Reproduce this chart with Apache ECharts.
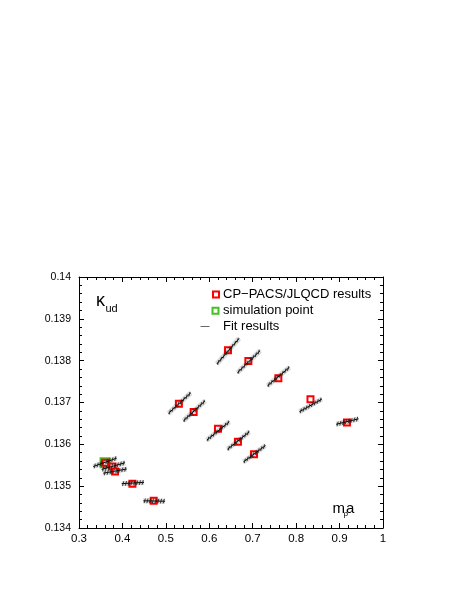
<!DOCTYPE html>
<html>
<head>
<meta charset="utf-8">
<script src="https://cdn.jsdelivr.net/npm/echarts@6/dist/echarts.min.js"></script>
<style>
html,body{margin:0;padding:0;background:#fff;}
#chart{width:463px;height:599px;}
</style>
</head>
<body>
<div id="chart"></div>
<script>
// CP-PACS/JLQCD results (m_rho a, kappa_ud)
const ptX = [0.360, 0.377, 0.383, 0.423, 0.472, 0.530, 0.564, 0.620, 0.666, 0.703, 0.643, 0.690, 0.759, 0.833, 0.917];
const ptY = [0.13556, 0.13547, 0.13535, 0.13506, 0.13465, 0.13697, 0.13677, 0.13637, 0.13606, 0.13576, 0.13825, 0.13799, 0.13758, 0.13708, 0.13652];
// simulation point
const simX = [0.360];
const simY = [0.13556];
// fit result segments (start / end)
const fitX1 = [0.3329, 0.3523, 0.3560, 0.3984, 0.4482, 0.5058, 0.5403, 0.5942, 0.6417, 0.6786, 0.6173, 0.6647, 0.7339, 0.8076, 0.8922];
const fitY1 = [0.13547, 0.13540, 0.13531, 0.13506, 0.13465, 0.13674, 0.13656, 0.13610, 0.13588, 0.13558, 0.13792, 0.13771, 0.13740, 0.13678, 0.13648];
const fitX2 = [0.3869, 0.4060, 0.4099, 0.4498, 0.4982, 0.5574, 0.5903, 0.6463, 0.6924, 0.7293, 0.6687, 0.7171, 0.7846, 0.8592, 0.9435];
const fitY2 = [0.13567, 0.13556, 0.13541, 0.13509, 0.13464, 0.13723, 0.13704, 0.13654, 0.13630, 0.13597, 0.13853, 0.13824, 0.13784, 0.13708, 0.13661];
// axes
const xMin = 0.3, xMax = 1.0, xStep = 0.1;
const yMin = 0.134, yMax = 0.140, yStep = 0.001;
const legendNames = ['CP\u2212PACS/JLQCD results', 'simulation point', 'Fit results'];

const FONT = '"Liberation Sans", Arial, Helvetica, sans-serif';
const chart = echarts.init(document.getElementById('chart'), null, {renderer: 'canvas'});

const ptData = ptX.map((x, i) => [x, ptY[i]]);
const simData = simX.map((x, i) => [x, simY[i]]);
const fitData = fitX1.map((x, i) => [x, fitY1[i], fitX2[i], fitY2[i]]);

const axisCommon = {
  axisLine: {show: true, onZero: false, lineStyle: {color: '#000', width: 1}},
  axisTick: {show: true, inside: true, length: 5, lineStyle: {color: '#000', width: 1}},
  minorTick: {show: true, splitNumber: 5, length: 3, lineStyle: {color: '#000', width: 1}},
  splitLine: {show: false},
  minorSplitLine: {show: false}
};

function renderFit(params, api) {
  const p1 = api.coord([api.value(0), api.value(1)]);
  const p2 = api.coord([api.value(2), api.value(3)]);
  const children = [];
  children.push({type: 'line', shape: {x1: p1[0], y1: p1[1], x2: p2[0], y2: p2[1]},
    style: {stroke: 'rgba(0,0,0,0.15)', lineWidth: 5}});
  children.push({type: 'line', shape: {x1: p1[0], y1: p1[1], x2: p2[0], y2: p2[1]},
    style: {stroke: '#000', lineWidth: 1}});
  const n = 8;
  for (let i = 0; i < n; i++) {
    const t = (i + 0.5) / n;
    const x = p1[0] + t * (p2[0] - p1[0]);
    const y = p1[1] + t * (p2[1] - p1[1]);
    children.push({type: 'line', shape: {x1: x + 0.6, y1: y - 2.3, x2: x - 0.6, y2: y + 2.3},
      style: {stroke: '#222', lineWidth: 0.9}});
  }
  return {type: 'group', children: children};
}

const option = {
  backgroundColor: '#fff',
  animation: false,
  grid: {left: 79, right: 80, top: 277, bottom: 71, containLabel: false},
  xAxis: [
    Object.assign({type: 'value', position: 'bottom', min: xMin, max: xMax, interval: xStep,
      axisLabel: {show: true, margin: 5, color: '#000', fontSize: 11.5, fontFamily: FONT,
        formatter: v => String(+v.toFixed(1))}}, axisCommon),
    Object.assign({type: 'value', position: 'top', min: xMin, max: xMax, interval: xStep,
      axisLabel: {show: false}}, axisCommon)
  ],
  yAxis: [
    Object.assign({type: 'value', position: 'left', min: yMin, max: yMax, interval: yStep,
      axisLabel: {show: true, margin: 8, color: '#000', fontSize: 10.5, fontFamily: FONT,
        formatter: v => String(+v.toFixed(3))}}, axisCommon),
    Object.assign({type: 'value', position: 'right', min: yMin, max: yMax, interval: yStep,
      axisLabel: {show: false}}, axisCommon)
  ],
  series: [
    {
      name: legendNames[1], type: 'scatter', data: simData, z: 2,
      symbol: 'rect', symbolSize: 9,
      itemStyle: {color: '#fff', borderColor: '#44c022', borderWidth: 2, opacity: 1}
    },
    {
      name: legendNames[0], type: 'scatter', data: ptData, z: 3,
      symbol: 'rect', symbolSize: 6,
      itemStyle: {color: '#fff', borderColor: '#ff0000', borderWidth: 2, opacity: 1}
    },
    {
      name: legendNames[2], type: 'custom', data: fitData, z: 4,
      encode: {x: [0, 2], y: [1, 3]},
      renderItem: renderFit
    }
  ],
  graphic: [
    // legend
    {type: 'rect', shape: {x: 213, y: 291.5, width: 6, height: 6},
      style: {fill: '#fff', stroke: '#ff0000', lineWidth: 2}},
    {type: 'text', x: 223, y: 294.8, style: {text: legendNames[0], font: '13px ' + FONT, fill: '#000', verticalAlign: 'middle'}},
    {type: 'rect', shape: {x: 212.5, y: 307.7, width: 6, height: 6},
      style: {fill: '#fff', stroke: '#44c022', lineWidth: 2}},
    {type: 'text', x: 223, y: 310.8, style: {text: legendNames[1], font: '13px ' + FONT, fill: '#000', verticalAlign: 'middle'}},
    {type: 'line', shape: {x1: 200.5, y1: 326.5, x2: 209.5, y2: 326.5}, style: {stroke: '#666', lineWidth: 1}},
    {type: 'text', x: 223, y: 326.8, style: {text: legendNames[2], font: '13px ' + FONT, fill: '#000', verticalAlign: 'middle'}},
    // y-axis title kappa_ud
    {type: 'text', x: 96, y: 301.5, style: {text: '\u03ba', font: '18px ' + FONT, fill: '#000', verticalAlign: 'middle'}},
    {type: 'text', x: 105.5, y: 309, style: {text: 'ud', font: '11px ' + FONT, fill: '#000', verticalAlign: 'middle'}},
    // x-axis title m_rho a
    {type: 'text', x: 332.5, y: 508.5, style: {text: 'm', font: '15px ' + FONT, fill: '#000', verticalAlign: 'middle'}},
    {type: 'text', x: 343.5, y: 514, style: {text: '\u03c1', font: '8px ' + FONT, fill: '#000', verticalAlign: 'middle'}},
    {type: 'text', x: 346, y: 508.5, style: {text: 'a', font: '15px ' + FONT, fill: '#000', verticalAlign: 'middle'}}
  ]
};
chart.setOption(option);
</script>
</body>
</html>
